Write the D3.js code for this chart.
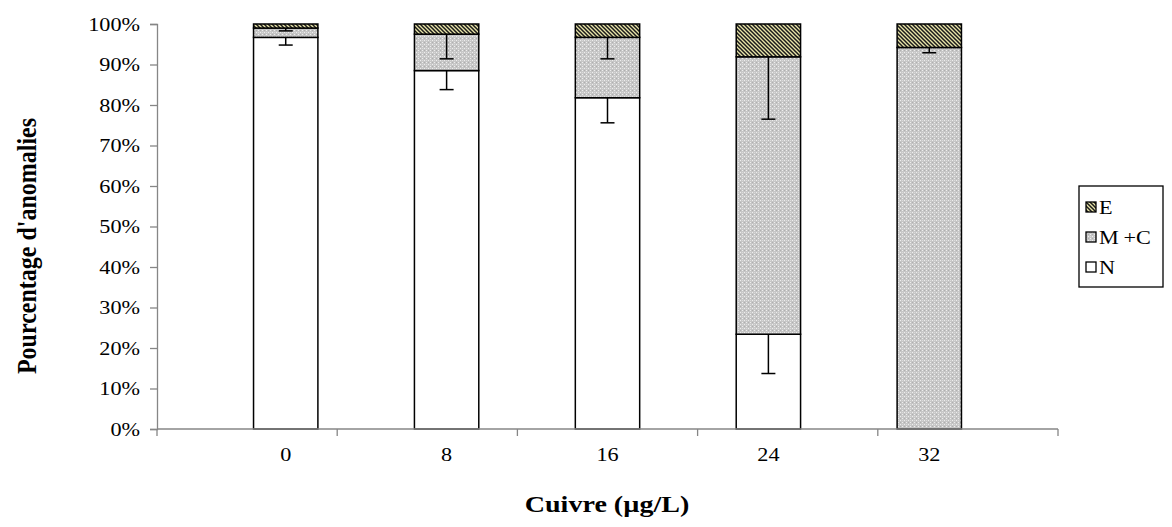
<!DOCTYPE html>
<html><head><meta charset="utf-8">
<script src="https://cdn.jsdelivr.net/npm/d3@7"></script>
<style>body{margin:0;background:#fff}svg{display:block}</style>
</head><body>
<svg id="c" width="1172" height="527"></svg>
<script>
const categories = ["0","8","16","24","32"];
const seriesNames = ["N","M+C","E"];
const N  = [96.7, 88.5, 81.8, 23.4, 0];
const MC = [2.3, 9.0, 14.9, 68.5, 94.2];
const E  = [1.0, 2.5, 3.3, 8.1, 5.8];
const errN  = [1.9, 4.7, 6.2, 9.7, 0];
const errMC = [0.7, 6.1, 5.3, 15.4, 1.3];
const yTicks = [0,10,20,30,40,50,60,70,80,90,100];
const legendItems = ["E","M+C","N"];

const svg = d3.select("#c");
const defs = svg.append("defs");
const pE = defs.append("pattern").attr("id","pE").attr("patternUnits","userSpaceOnUse").attr("width",4).attr("height",4);
pE.append("rect").attr("width",4).attr("height",4).attr("fill","#e8e4a8");
pE.append("path").attr("d","M-1,-1 L5,5 M-1,3 L1,5 M3,-1 L5,1").attr("stroke","#1a1a1a").attr("stroke-width",1.5);
const pM = defs.append("pattern").attr("id","pM").attr("patternUnits","userSpaceOnUse").attr("width",4).attr("height",4);
pM.append("rect").attr("width",4).attr("height",4).attr("fill","#c6c6c6");
pM.append("rect").attr("x",0).attr("y",0).attr("width",1).attr("height",1).attr("fill","#eeeeee");
pM.append("rect").attr("x",2).attr("y",2).attr("width",1).attr("height",1).attr("fill","#eeeeee");
pM.append("rect").attr("x",2).attr("y",0).attr("width",1).attr("height",1).attr("fill","#dadada");
pM.append("rect").attr("x",0).attr("y",2).attr("width",1).attr("height",1).attr("fill","#afafaf");

const fills = {"N":"#ffffff","M+C":"url(#pM)","E":"url(#pE)"};
const x0 = 157, x1 = 1058, yTop = 24, yBot = 429;
const x = d3.scaleBand().domain(categories).range([x0,x1]).padding(0.6);
const y = d3.scaleLinear().domain([0,100]).range([yBot,yTop]);
const SX = 1.17;
const font = "Liberation Serif, Times New Roman, serif";

function txt(g, px, py, str, opts={}){
  const t = g.append("g").attr("transform",`translate(${px},${py})${opts.rot?" rotate(-90)":""} scale(${opts.rot?1:SX},${opts.rot?SX:1})`)
    .append("text").attr("x",0).attr("y",0)
    .attr("text-anchor",opts.anchor||"start")
    .attr("font-family",font).attr("font-size",opts.size||19)
    .attr("font-weight",opts.bold?"bold":"normal").attr("fill","#000");
  if(str === "M+C"){
    t.append("tspan").text("M");
    t.append("tspan").attr("dx",4).text("+C");
  } else t.text(str);
  return t;
}

const rows = categories.map((c,i)=>({cat:c,"N":N[i],"M+C":MC[i],"E":E[i]}));
const stack = d3.stack().keys(seriesNames)(rows);

stack.forEach(layer=>{
  svg.append("g").selectAll("rect").data(layer.filter(d=>d[1]-d[0]>0)).join("rect")
    .attr("x",d=>x(d.data.cat)).attr("width",x.bandwidth())
    .attr("y",d=>y(d[1])).attr("height",d=>y(d[0])-y(d[1]))
    .attr("fill",fills[layer.key]).attr("stroke","#000").attr("stroke-width",1.5);
});

const errs = [{top:N.slice(), e:errN},{top:N.map((v,i)=>v+MC[i]), e:errMC}];
const eg = svg.append("g").attr("stroke","#000").attr("stroke-width",1.5);
errs.forEach(s=>{
  categories.forEach((c,i)=>{
    if(s.e[i]<=0) return;
    const cx = x(c)+x.bandwidth()/2;
    eg.append("line").attr("x1",cx).attr("x2",cx).attr("y1",y(s.top[i])).attr("y2",y(s.top[i]-s.e[i]));
    eg.append("line").attr("x1",cx-7).attr("x2",cx+7).attr("y1",y(s.top[i]-s.e[i])).attr("y2",y(s.top[i]-s.e[i]));
  });
});

const yAxis = d3.axisLeft(y).tickValues(yTicks).tickFormat("").tickSize(7);
const ya = svg.append("g").attr("transform",`translate(${x0},0)`).call(yAxis);
ya.select(".domain").attr("stroke","#868686").attr("stroke-width",1.3);
ya.selectAll(".tick line").attr("stroke","#868686").attr("stroke-width",1.3);
const ylab = svg.append("g");
yTicks.forEach(v=>txt(ylab, 140, y(v)+6.5, v+"%", {anchor:"end", size:19}));

const xa = svg.append("g").attr("transform",`translate(0,${yBot})`);
xa.append("line").attr("x1",x0).attr("x2",x1).attr("y1",0).attr("y2",0).attr("stroke","#868686").attr("stroke-width",1.3);
const bounds = d3.range(categories.length+1).map(i=>x0+(x1-x0)*i/categories.length);
xa.selectAll("line.tk").data(bounds).join("line").attr("class","tk")
  .attr("x1",d=>d).attr("x2",d=>d).attr("y1",0).attr("y2",7).attr("stroke","#868686").attr("stroke-width",1.3);
categories.forEach(c=>txt(xa, x(c)+x.bandwidth()/2, 32, c, {anchor:"middle", size:19}));

txt(svg, 607, 512, "Cuivre (µg/L)", {anchor:"middle", size:24, bold:true});
txt(svg, 36, 246, "Pourcentage d'anomalies", {anchor:"middle", size:24, bold:true, rot:true});

const lg = svg.append("g");
lg.append("rect").attr("x",1079).attr("y",186).attr("width",84).attr("height",101)
  .attr("fill","#fff").attr("stroke","#000").attr("stroke-width",1.3);
legendItems.forEach((k,i)=>{
  const cy = 207 + i*30;
  lg.append("rect").attr("x",1086).attr("y",cy-5).attr("width",10).attr("height",10)
    .attr("fill",fills[k]).attr("stroke","#000").attr("stroke-width",1.3);
  txt(lg, 1099, cy+6.5, k, {size:19});
});
</script>
</body></html>
